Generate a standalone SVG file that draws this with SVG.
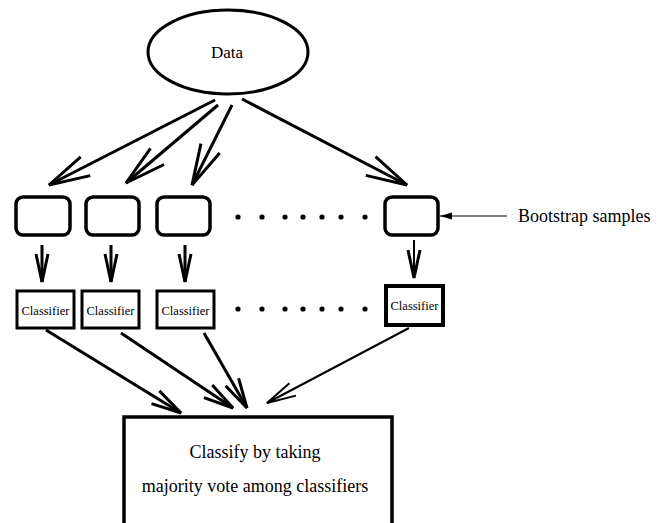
<svg xmlns="http://www.w3.org/2000/svg" width="672" height="523" viewBox="0 0 672 523">
<style>
.n{fill:#fff;stroke:#000}
.t{font-family:"Liberation Serif","Times New Roman",serif;fill:#000}
.c{fill:none;stroke:#000}
</style>
<defs>
<marker id="big" markerUnits="userSpaceOnUse" orient="auto" refX="0" refY="0" markerWidth="10" markerHeight="10" overflow="visible"><path d="M-41,-10.5 L0,0 L-41,10.5" fill="none" stroke="#000" stroke-width="3"/></marker>
<marker id="down" markerUnits="userSpaceOnUse" orient="auto" refX="0" refY="0" markerWidth="10" markerHeight="10" overflow="visible"><path d="M-28,-6 L0,0 L-28,6" fill="none" stroke="#000" stroke-width="3"/></marker>
<marker id="mid" markerUnits="userSpaceOnUse" orient="auto" refX="0" refY="0" markerWidth="10" markerHeight="10" overflow="visible"><path d="M-30,-7.5 L0,0 L-30,7.5" fill="none" stroke="#000" stroke-width="3"/></marker>
<marker id="thin" markerUnits="userSpaceOnUse" orient="auto" refX="0" refY="0" markerWidth="10" markerHeight="10" overflow="visible"><path d="M-29,-7 L0,0 L-29,7" fill="none" stroke="#000" stroke-width="2"/></marker>
<marker id="tri" markerUnits="userSpaceOnUse" orient="auto" refX="0" refY="0" markerWidth="10" markerHeight="10" overflow="visible"><path d="M-12,-3.5 L0,0 L-12,3.5 Z" fill="#000"/></marker>
</defs>
<rect width="672" height="523" fill="#fff"/>
<g id="connectors">
<path class="c" stroke-width="3" d="M215,100 L49,185" marker-end="url(#big)"/>
<path class="c" stroke-width="3" d="M218,105 L126,183" marker-end="url(#big)"/>
<path class="c" stroke-width="3" d="M232,105 L192,185" marker-end="url(#big)"/>
<path class="c" stroke-width="3" d="M242,99 L407,185" marker-end="url(#big)"/>
<path class="c" stroke-width="3" d="M42,245 L42,282" marker-end="url(#down)"/>
<path class="c" stroke-width="3" d="M111,245 L111,282" marker-end="url(#down)"/>
<path class="c" stroke-width="3" d="M185,245 L185,282" marker-end="url(#down)"/>
<path class="c" stroke-width="2" d="M414,240 L414,278" marker-end="url(#down)"/>
<path class="c" stroke-width="1.2" d="M507,216 L440,216" marker-end="url(#tri)"/>
<path class="c" stroke-width="3" d="M46,330 L181,413" marker-end="url(#mid)"/>
<path class="c" stroke-width="3" d="M121,333 L233,408" marker-end="url(#mid)"/>
<path class="c" stroke-width="3" d="M204,333 L247,408" marker-end="url(#mid)"/>
<path class="c" stroke-width="2" d="M409,328 L267,403" marker-end="url(#thin)"/>
</g>
<g id="data"><ellipse class="n" cx="228" cy="52" rx="80" ry="42" stroke-width="3"/><text class="t" x="227" y="58" font-size="17" text-anchor="middle">Data</text></g>
<g id="sample1"><rect class="n" x="16" y="197" width="54" height="38" rx="7" stroke-width="3.5"/></g>
<g id="sample2"><rect class="n" x="86" y="197" width="53" height="38" rx="7" stroke-width="3.5"/></g>
<g id="sample3"><rect class="n" x="157" y="197" width="53" height="38" rx="7" stroke-width="3.5"/></g>
<g id="sample4"><rect class="n" x="385" y="197" width="53" height="38" rx="7" stroke-width="3.5"/></g>
<g id="dots1">
<circle cx="238" cy="217" r="2.6"/><circle cx="262" cy="217" r="2.6"/><circle cx="285" cy="217" r="2.6"/><circle cx="303" cy="217" r="2.6"/><circle cx="322" cy="217" r="2.6"/><circle cx="341" cy="217" r="2.6"/><circle cx="365" cy="217" r="2.6"/>
</g>
<g id="bootstrap"><text class="t" x="518" y="222" font-size="18">Bootstrap samples</text></g>
<g id="classifier1"><rect class="n" x="17" y="291" width="57" height="37" stroke-width="3"/><text class="t" x="45.5" y="315" font-size="12.5" text-anchor="middle">Classifier</text></g>
<g id="classifier2"><rect class="n" x="82" y="291" width="57" height="37" stroke-width="3"/><text class="t" x="110.5" y="315" font-size="12.5" text-anchor="middle">Classifier</text></g>
<g id="classifier3"><rect class="n" x="157" y="291" width="57" height="37" stroke-width="3"/><text class="t" x="185.5" y="315" font-size="12.5" text-anchor="middle">Classifier</text></g>
<g id="classifier4"><rect class="n" x="386" y="286" width="57" height="39" stroke-width="4"/><text class="t" x="414.5" y="310" font-size="12.5" text-anchor="middle">Classifier</text></g>
<g id="dots2">
<circle cx="238" cy="309" r="2.6"/><circle cx="262" cy="309" r="2.6"/><circle cx="285" cy="309" r="2.6"/><circle cx="303" cy="309" r="2.6"/><circle cx="322" cy="309" r="2.6"/><circle cx="341" cy="309" r="2.6"/><circle cx="365" cy="309" r="2.6"/>
</g>
<g id="vote"><rect class="n" x="124" y="417" width="268" height="110" stroke-width="3.5"/>
<text class="t" x="255" y="458" font-size="18" text-anchor="middle">Classify by taking</text>
<text class="t" x="255" y="492" font-size="18" text-anchor="middle">majority vote among classifiers</text></g>
</svg>
